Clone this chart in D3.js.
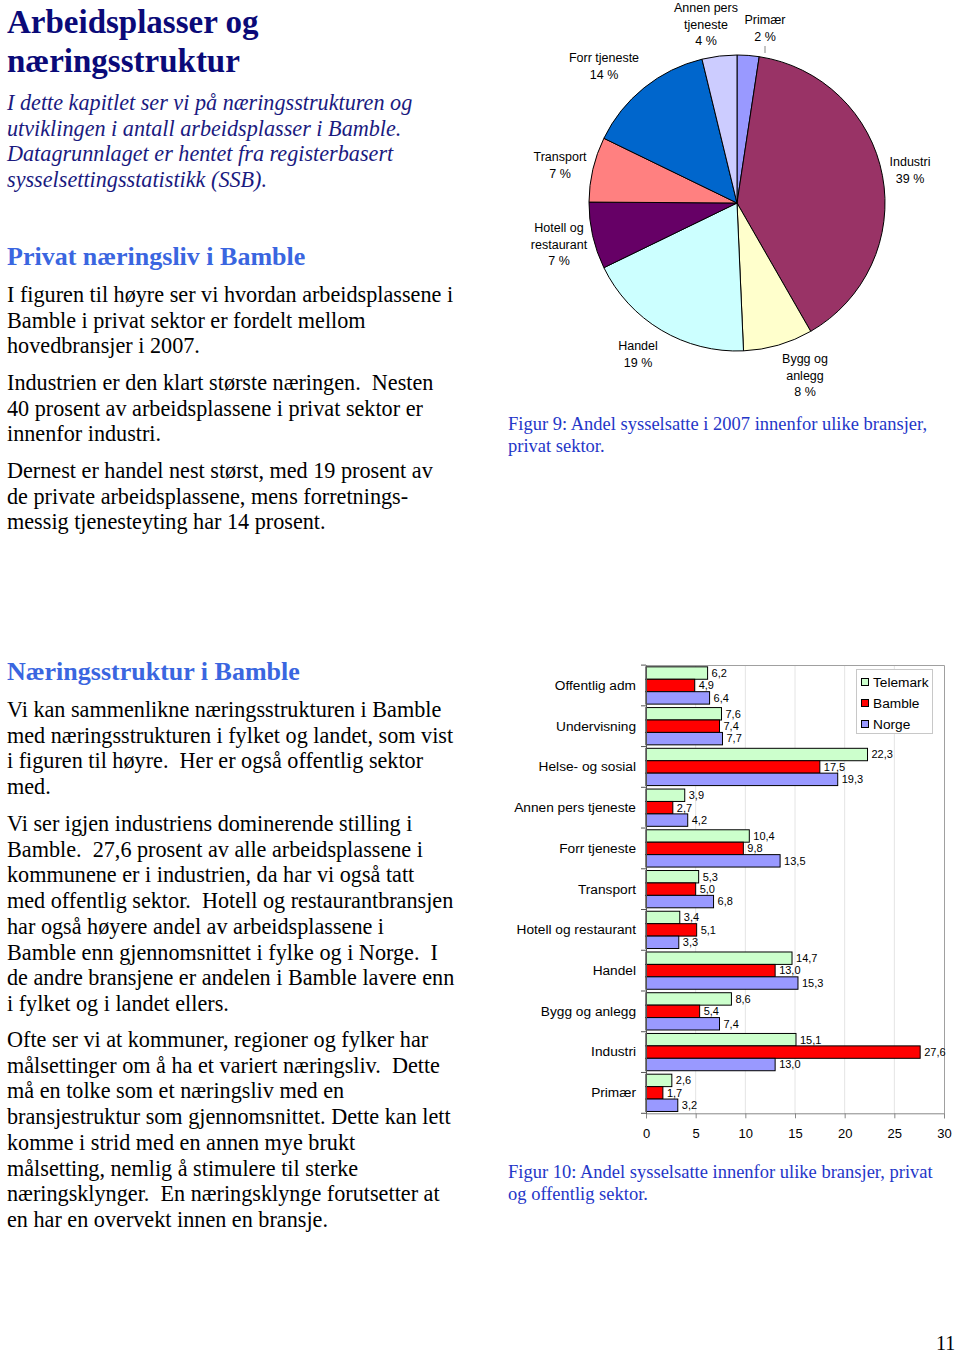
<!DOCTYPE html>
<html><head><meta charset="utf-8">
<script src="https://cdn.jsdelivr.net/npm/d3@7"></script>
<style>body{margin:0;background:#fff}svg{display:block}text{white-space:pre}</style>
</head><body>
<svg id="page" width="960" height="1354"></svg>
<script>
// ---------- DATA ----------
const pieCategories = ["Primær","Industri","Bygg og anlegg","Handel","Hotell og restaurant","Transport","Forr tjeneste","Annen pers tjeneste"];
const pieValues = [2.4, 39.3, 7.6, 18.5, 7.3, 7.1, 14.0, 3.8];
const pieLabels = ["2 %","39 %","8 %","19 %","7 %","7 %","14 %","4 %"];
const pieColors = ["#9999ff","#993366","#ffffcc","#ccffff","#660066","#ff8080","#0066cc","#ccccff"];

const barCategories = ["Offentlig adm","Undervisning","Helse- og sosial","Annen pers tjeneste","Forr tjeneste","Transport","Hotell og restaurant","Handel","Bygg og anlegg","Industri","Primær"];
const seriesNames = ["Telemark","Bamble","Norge"];
const telemark = [6.2, 7.6, 22.3, 3.9, 10.4, 5.3, 3.4, 14.7, 8.6, 15.1, 2.6];
const bamble   = [4.9, 7.4, 17.5, 2.7, 9.8, 5.0, 5.1, 13.0, 5.4, 27.6, 1.7];
const norge    = [6.4, 7.7, 19.3, 4.2, 13.5, 6.8, 3.3, 15.3, 7.4, 13.0, 3.2];
const seriesColors = ["#ccffcc","#ff0000","#9999ff"];
const xTicks = [0,5,10,15,20,25,30];

// ---------- TEXT ----------
const svg = d3.select("#page");
const serif = "'Liberation Serif','Times New Roman',serif";
const sans = "'Liberation Sans',Arial,sans-serif";

function lines(arr, x, y0, step, size, color, style, weight){
  arr.forEach((t,i)=>{
    svg.append("text").attr("x",x).attr("y",y0+i*step)
      .attr("font-family",serif).attr("font-size",size)
      .attr("font-style",style||"normal").attr("font-weight",weight||"normal")
      .attr("fill",color).text(t);
  });
}
lines(["Arbeidsplasser og","næringsstruktur"], 7, 33, 38.5, 33, "#0a0a78", "normal", "bold");
lines(["I dette kapitlet ser vi på næringsstrukturen og","utviklingen i antall arbeidsplasser i Bamble.","Datagrunnlaget er hentet fra registerbasert","sysselsettingsstatistikk (SSB)."], 7, 110, 25.7, 22.2, "#1a1a80", "italic");
lines(["Privat næringsliv i Bamble"], 7, 265, 0, 26, "#3a66e0", "normal", "bold");
lines(["I figuren til høyre ser vi hvordan arbeidsplassene i","Bamble i privat sektor er fordelt mellom","hovedbransjer i 2007."], 7, 302, 25.7, 22.2, "#000");
lines(["Industrien er den klart største næringen.  Nesten","40 prosent av arbeidsplassene i privat sektor er","innenfor industri."], 7, 390, 25.7, 22.2, "#000");
lines(["Dernest er handel nest størst, med 19 prosent av","de private arbeidsplassene, mens forretnings-","messig tjenesteyting har 14 prosent."], 7, 478, 25.7, 22.2, "#000");
lines(["Næringsstruktur i Bamble"], 7, 680, 0, 26, "#3a66e0", "normal", "bold");
lines(["Vi kan sammenlikne næringsstrukturen i Bamble","med næringsstrukturen i fylket og landet, som vist","i figuren til høyre.  Her er også offentlig sektor","med."], 7, 717, 25.7, 22.2, "#000");
lines(["Vi ser igjen industriens dominerende stilling i","Bamble.  27,6 prosent av alle arbeidsplassene i","kommunene er i industrien, da har vi også tatt","med offentlig sektor.  Hotell og restaurantbransjen","har også høyere andel av arbeidsplassene i","Bamble enn gjennomsnittet i fylke og i Norge.  I","de andre bransjene er andelen i Bamble lavere enn","i fylket og i landet ellers."], 7, 831, 25.7, 22.2, "#000");
lines(["Ofte ser vi at kommuner, regioner og fylker har","målsettinger om å ha et variert næringsliv.  Dette","må en tolke som et næringsliv med en","bransjestruktur som gjennomsnittet. Dette kan lett","komme i strid med en annen mye brukt","målsetting, nemlig å stimulere til sterke","næringsklynger.  En næringsklynge forutsetter at","en har en overvekt innen en bransje."], 7, 1047, 25.7, 22.2, "#000");
lines(["Figur 9: Andel sysselsatte i 2007 innenfor ulike bransjer,","privat sektor."], 508, 430, 21.5, 18.5, "#2436c8");
lines(["Figur 10: Andel sysselsatte innenfor ulike bransjer, privat","og offentlig sektor."], 508, 1178, 21.5, 18.5, "#2436c8");
lines(["11"], 936, 1350, 0, 20, "#000");

// ---------- PIE ----------
const cx = 737, cy = 203, R = 148;
const pieData = pieCategories.map((c,i)=>({cat:c, value:pieValues[i], label:pieLabels[i], color:pieColors[i]}));
const pie = d3.pie().sort(null).value(d=>d.value).startAngle(0).endAngle(2*Math.PI);
const arc = d3.arc().innerRadius(0).outerRadius(R);
const pg = svg.append("g").attr("transform",`translate(${cx},${cy})`);
pg.selectAll("path").data(pie(pieData)).join("path")
  .attr("d",arc).attr("fill",d=>d.data.color)
  .attr("stroke","#000").attr("stroke-width",1);

const pieLabelPos = {
  "Primær":{x:765,y:20,lines:["Primær"]},
  "Industri":{x:910,y:162,lines:["Industri"]},
  "Bygg og anlegg":{x:805,y:359,lines:["Bygg og","anlegg"]},
  "Handel":{x:638,y:346,lines:["Handel"]},
  "Hotell og restaurant":{x:559,y:228,lines:["Hotell og","restaurant"]},
  "Transport":{x:560,y:157,lines:["Transport"]},
  "Forr tjeneste":{x:604,y:58,lines:["Forr tjeneste"]},
  "Annen pers tjeneste":{x:706,y:8,lines:["Annen pers","tjeneste"]}
};
pieData.forEach(d=>{
  const p = pieLabelPos[d.cat];
  const all = p.lines.concat([d.label]);
  all.forEach((t,i)=>{
    svg.append("text").attr("x",p.x).attr("y",p.y+i*16.3).attr("dy","0.35em")
      .attr("text-anchor","middle").attr("font-family",sans).attr("font-size",12.5)
      .attr("fill","#000").text(t);
  });
});
svg.append("line").attr("x1",765).attr("y1",46).attr("x2",765).attr("y2",53).attr("stroke","#888").attr("stroke-width",1);

// ---------- BAR CHART ----------
const x = d3.scaleLinear().domain([0,30]).range([646,944]);
const y = d3.scaleBand().domain(barCategories).range([665,1113.3]).paddingInner(0.085).paddingOuter(0.045);
const ys = d3.scaleBand().domain(seriesNames).range([0,y.bandwidth()]).padding(0);
const series = [telemark, bamble, norge];
const bg = svg.append("g");

bg.selectAll("line.grid").data(xTicks.slice(1,-1)).join("line")
  .attr("x1",d=>x(d)).attr("x2",d=>x(d)).attr("y1",665).attr("y2",1113.3)
  .attr("stroke","#e4e4e4").attr("stroke-width",1);
bg.append("path").attr("d",`M${x(0)},665.5H${x(30)+0.5}V1113.3`).attr("fill","none").attr("stroke","#a0a0a0");

series.forEach((vals,si)=>{
  bg.selectAll(null).data(vals).join("rect")
    .attr("x",x(0)).attr("y",(d,i)=>y(barCategories[i])+ys(seriesNames[si]))
    .attr("width",d=>x(d)-x(0)).attr("height",ys.bandwidth())
    .attr("fill",seriesColors[si]).attr("stroke","#000").attr("stroke-width",1);
});
series.forEach((vals,si)=>{
  bg.selectAll(null).data(vals).join("text")
    .attr("x",d=>x(d)+4).attr("y",(d,i)=>y(barCategories[i])+ys(seriesNames[si])+ys.bandwidth()/2)
    .attr("dy","0.35em").attr("font-family",sans).attr("font-size",11).attr("fill","#000")
    .text(d=>d3.format(".1f")(d).replace(".",","));
});

const xAxis = d3.axisBottom(x).tickValues(xTicks).tickSize(5).tickPadding(10).tickFormat(d3.format("d"));
const xg = bg.append("g").attr("transform","translate(0,1113.3)").call(xAxis);
xg.select(".domain").attr("stroke","#888");
xg.selectAll(".tick line").attr("stroke","#888");
xg.selectAll("text").attr("font-family",sans).attr("font-size",13).attr("fill","#000");

const yAxis = d3.axisLeft(y).tickSize(0).tickPadding(10);
const yg = bg.append("g").attr("transform",`translate(${x(0)},0)`).call(yAxis);
yg.select(".domain").attr("stroke","#555");
yg.selectAll("text").attr("font-family",sans).attr("font-size",13.7).attr("fill","#000");
const bounds = barCategories.map(c=>y(c)-y.step()*y.paddingInner()/2).concat([1113.3]);
bg.selectAll("line.cb").data(bounds).join("line")
  .attr("x1",x(0)-5).attr("x2",x(0)).attr("y1",d=>d).attr("y2",d=>d)
  .attr("stroke","#555");

const lg = svg.append("g");
lg.append("rect").attr("x",856.5).attr("y",669.5).attr("width",76).attr("height",64)
  .attr("fill","#fff").attr("stroke","#c8c8c8");
seriesNames.forEach((n,i)=>{
  lg.append("rect").attr("x",861.5).attr("y",678.5+i*21).attr("width",7).attr("height",7)
    .attr("fill",seriesColors[i]).attr("stroke","#000");
  lg.append("text").attr("x",873).attr("y",682+i*21).attr("dy","0.35em")
    .attr("font-family",sans).attr("font-size",13.7).attr("fill","#000").text(n);
});
</script>
</body></html>
